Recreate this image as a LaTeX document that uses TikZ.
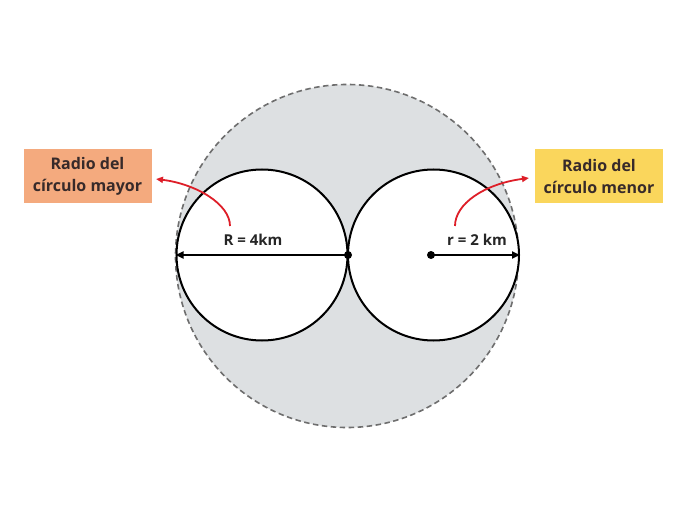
\documentclass[tikz,border=0pt]{standalone}
\usepackage{fontspec}
\setmainfont{Open Sans}
\usetikzlibrary{arrows.meta}
\definecolor{bigfill}{RGB}{221,224,226}
\definecolor{dashgray}{RGB}{110,110,110}
\definecolor{peach}{RGB}{244,170,126}
\definecolor{gold}{RGB}{250,214,92}
\definecolor{txt}{RGB}{55,42,42}
\definecolor{redarrow}{RGB}{222,30,40}
\begin{document}
\begin{tikzpicture}[x=1pt,y=-1pt,
  labelbox/.style={font=\bfseries\fontsize{16}{21.5}\selectfont, text=txt, align=center, minimum width=128pt, minimum height=54pt, inner sep=0pt},
  smallcirc/.style={circle, draw=black, line width=2pt, fill=white, minimum size=171pt, inner sep=0pt},
  dotnode/.style={circle, fill=black, minimum size=8pt, inner sep=0pt},
  dimarrow/.style={line width=1.8pt, -{Triangle[length=8pt,width=7pt]}},
  redcurve/.style={draw=redarrow, line width=1.8pt, -{Triangle[length=7pt,width=6pt]}},
  dimlabel/.style={font=\bfseries\fontsize{15}{17}\selectfont, text=black!85}]
\useasboundingbox (0,0) rectangle (685,513);
\fill[white] (0,0) rectangle (685,513);
\node[circle, draw=dashgray, line width=1.6pt, dash pattern=on 5.5pt off 3.5pt, fill=bigfill, minimum size=343pt, inner sep=0pt] (big) at (347,256) {};
\node[smallcirc] (left) at (262,255) {};
\node[smallcirc] (right) at (433.5,255) {};
\node[dotnode] (touch) at (348,255) {};
\node[dotnode] (rc) at (431,255) {};
\draw[dimarrow] (touch.center) -- (left.west);
\draw[dimarrow] (rc.center) -- (right.east);
\node[dimlabel] (Rlab) at (253,240) {R = 4km};
\node[dimlabel] (rlab) at (477,240) {r = 2 km};
\node[labelbox, fill=peach] (lbox) at (87.5,176.5) {Radio del\\círculo mayor};
\node[labelbox, fill=gold] (rbox) at (599,176.5) {Radio del\\círculo menor};
\coordinate (ls) at (230,226);
\coordinate (le) at (156,179);
\coordinate (rs) at (455,226);
\coordinate (re) at (529,178);
\draw[redcurve] (ls) .. controls (230,204) and (196,184) .. (le);
\draw[redcurve] (rs) .. controls (455,204) and (484,184) .. (re);
\end{tikzpicture}
\end{document}
